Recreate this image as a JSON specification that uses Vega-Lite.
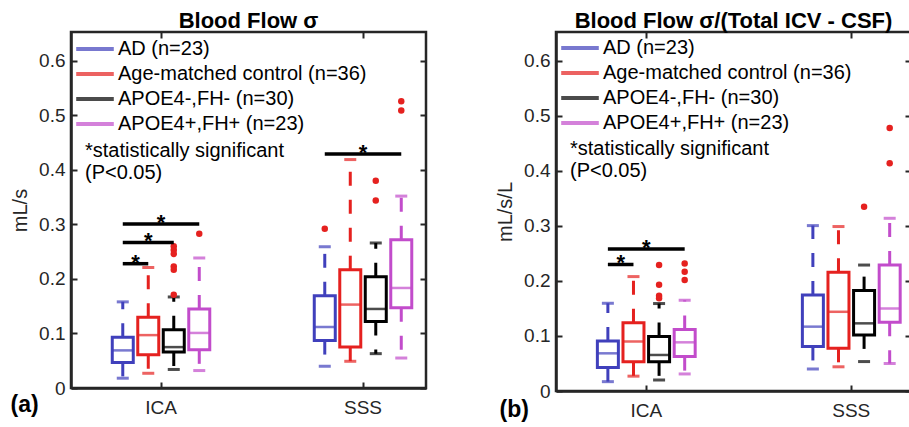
{
"$schema": "https://vega.github.io/schema/vega-lite/v6.json",
"background": "white",
"padding": {"left": 8, "top": 8, "right": 0, "bottom": 0},
"autosize": {"type": "pad"},
"bounds": "flush",
"spacing": 130,
"config": {
  "font": "Liberation Sans",
  "view": {"stroke": "#262626", "strokeWidth": 2.5},
  "axis": {"grid": false, "domainColor": "#262626", "domainWidth": 2.5, "tickColor": "#262626", "tickWidth": 2, "labelColor": "#262626", "labelFont": "Liberation Sans", "labelFontSize": 19, "titleFont": "Liberation Sans", "titleColor": "#262626"},
  "title": {"font": "Liberation Sans", "fontSize": 22, "fontWeight": "bold", "color": "#000000", "anchor": "middle", "frame": "group", "baseline": "alphabetic", "offset": -2}
},
"datasets": {
  "boxesA": [
    {"vessel": "ICA", "group": "AD (n=23)", "lo": 0.018, "q1": 0.047, "median": 0.069, "q3": 0.093, "hi": 0.158},
    {"vessel": "ICA", "group": "Age-matched control (n=36)", "lo": 0.027, "q1": 0.061, "median": 0.097, "q3": 0.130, "hi": 0.221},
    {"vessel": "ICA", "group": "APOE4-,FH- (n=30)", "lo": 0.034, "q1": 0.066, "median": 0.075, "q3": 0.107, "hi": 0.167},
    {"vessel": "ICA", "group": "APOE4+,FH+ (n=23)", "lo": 0.032, "q1": 0.070, "median": 0.101, "q3": 0.145, "hi": 0.2385},
    {"vessel": "SSS", "group": "AD (n=23)", "lo": 0.040, "q1": 0.087, "median": 0.112, "q3": 0.169, "hi": 0.259},
    {"vessel": "SSS", "group": "Age-matched control (n=36)", "lo": 0.049, "q1": 0.075, "median": 0.153, "q3": 0.217, "hi": 0.419},
    {"vessel": "SSS", "group": "APOE4-,FH- (n=30)", "lo": 0.063, "q1": 0.122, "median": 0.145, "q3": 0.204, "hi": 0.266},
    {"vessel": "SSS", "group": "APOE4+,FH+ (n=23)", "lo": 0.055, "q1": 0.147, "median": 0.1835, "q3": 0.272, "hi": 0.352}
  ],
  "outA": [
    {"vessel": "ICA", "group": "APOE4-,FH- (n=30)", "value": 0.260},
    {"vessel": "ICA", "group": "APOE4-,FH- (n=30)", "value": 0.253},
    {"vessel": "ICA", "group": "APOE4-,FH- (n=30)", "value": 0.246},
    {"vessel": "ICA", "group": "APOE4-,FH- (n=30)", "value": 0.223},
    {"vessel": "ICA", "group": "APOE4-,FH- (n=30)", "value": 0.217},
    {"vessel": "ICA", "group": "APOE4-,FH- (n=30)", "value": 0.171},
    {"vessel": "ICA", "group": "APOE4+,FH+ (n=23)", "value": 0.283},
    {"vessel": "SSS", "group": "AD (n=23)", "value": 0.292},
    {"vessel": "SSS", "group": "APOE4-,FH- (n=30)", "value": 0.380},
    {"vessel": "SSS", "group": "APOE4-,FH- (n=30)", "value": 0.344},
    {"vessel": "SSS", "group": "APOE4+,FH+ (n=23)", "value": 0.526},
    {"vessel": "SSS", "group": "APOE4+,FH+ (n=23)", "value": 0.509}
  ],
  "sigA": [
    {"vessel": "ICA", "comparison": "AD vs control", "group": "AD (n=23)", "value": 0.228},
    {"vessel": "ICA", "comparison": "AD vs control", "group": "Age-matched control (n=36)", "value": 0.228},
    {"vessel": "ICA", "comparison": "AD vs APOE4-", "group": "AD (n=23)", "value": 0.267},
    {"vessel": "ICA", "comparison": "AD vs APOE4-", "group": "APOE4-,FH- (n=30)", "value": 0.267},
    {"vessel": "ICA", "comparison": "AD vs APOE4+", "group": "AD (n=23)", "value": 0.301},
    {"vessel": "ICA", "comparison": "AD vs APOE4+", "group": "APOE4+,FH+ (n=23)", "value": 0.301},
    {"vessel": "SSS", "comparison": "AD vs APOE4+", "group": "AD (n=23)", "value": 0.429},
    {"vessel": "SSS", "comparison": "AD vs APOE4+", "group": "APOE4+,FH+ (n=23)", "value": 0.429}
  ],
  "starA": [
    {"vessel": "ICA", "group": "AD|control", "value": 0.228},
    {"vessel": "ICA", "group": "Age-matched control (n=36)", "value": 0.267},
    {"vessel": "ICA", "group": "control|APOE4-", "value": 0.301},
    {"vessel": "SSS", "group": "control|APOE4-", "value": 0.429}
  ],
  "boxesB": [
    {"vessel": "ICA", "group": "AD (n=23)", "lo": 0.017, "q1": 0.0425, "median": 0.0685, "q3": 0.091, "hi": 0.1595},
    {"vessel": "ICA", "group": "Age-matched control (n=36)", "lo": 0.027, "q1": 0.053, "median": 0.090, "q3": 0.124, "hi": 0.208},
    {"vessel": "ICA", "group": "APOE4-,FH- (n=30)", "lo": 0.020, "q1": 0.053, "median": 0.0655, "q3": 0.099, "hi": 0.159},
    {"vessel": "ICA", "group": "APOE4+,FH+ (n=23)", "lo": 0.031, "q1": 0.0625, "median": 0.0885, "q3": 0.112, "hi": 0.165},
    {"vessel": "SSS", "group": "AD (n=23)", "lo": 0.040, "q1": 0.081, "median": 0.117, "q3": 0.1745, "hi": 0.3007},
    {"vessel": "SSS", "group": "Age-matched control (n=36)", "lo": 0.044, "q1": 0.0776, "median": 0.144, "q3": 0.216, "hi": 0.299},
    {"vessel": "SSS", "group": "APOE4-,FH- (n=30)", "lo": 0.0535, "q1": 0.102, "median": 0.123, "q3": 0.1825, "hi": 0.229},
    {"vessel": "SSS", "group": "APOE4+,FH+ (n=23)", "lo": 0.050, "q1": 0.125, "median": 0.150, "q3": 0.229, "hi": 0.314}
  ],
  "outB": [
    {"vessel": "ICA", "group": "APOE4-,FH- (n=30)", "value": 0.229},
    {"vessel": "ICA", "group": "APOE4-,FH- (n=30)", "value": 0.193},
    {"vessel": "ICA", "group": "APOE4-,FH- (n=30)", "value": 0.173},
    {"vessel": "ICA", "group": "APOE4-,FH- (n=30)", "value": 0.1685},
    {"vessel": "ICA", "group": "APOE4+,FH+ (n=23)", "value": 0.232},
    {"vessel": "ICA", "group": "APOE4+,FH+ (n=23)", "value": 0.217},
    {"vessel": "ICA", "group": "APOE4+,FH+ (n=23)", "value": 0.202},
    {"vessel": "SSS", "group": "APOE4-,FH- (n=30)", "value": 0.335},
    {"vessel": "SSS", "group": "APOE4+,FH+ (n=23)", "value": 0.478},
    {"vessel": "SSS", "group": "APOE4+,FH+ (n=23)", "value": 0.414}
  ],
  "sigB": [
    {"vessel": "ICA", "comparison": "AD vs control", "group": "AD (n=23)", "value": 0.230},
    {"vessel": "ICA", "comparison": "AD vs control", "group": "Age-matched control (n=36)", "value": 0.230},
    {"vessel": "ICA", "comparison": "AD vs APOE4+", "group": "AD (n=23)", "value": 0.258},
    {"vessel": "ICA", "comparison": "AD vs APOE4+", "group": "APOE4+,FH+ (n=23)", "value": 0.258}
  ],
  "starB": [
    {"vessel": "ICA", "group": "AD|control", "value": 0.230},
    {"vessel": "ICA", "group": "control|APOE4-", "value": 0.258}
  ]
},
"hconcat": [
  {
    "width": 355, "height": 356,
    "title": {"text": "Blood Flow σ"},
    "encoding": {
      "x": {"field": "vessel", "type": "nominal", "scale": {"domain": ["ICA", "SSS"], "paddingInner": 0.5582, "paddingOuter": 0.1578, "align": 0.712}, "axis": null},
      "xOffset": {"field": "group", "type": "nominal", "scale": {"domain": ["AD (n=23)", "AD|control", "Age-matched control (n=36)", "control|APOE4-", "APOE4-,FH- (n=30)", "APOE4-|APOE4+", "APOE4+,FH+ (n=23)"], "paddingInner": 0, "paddingOuter": 0}}
    },
    "resolve": {"axis": {"x": "independent", "y": "independent"}},
    "layer": [
      {"data": {"name": "boxesA"}, "mark": {"type": "rule", "strokeWidth": 3, "strokeDash": [14, 14]},
       "encoding": {
         "x": {"field": "vessel", "type": "nominal", "axis": {"title": "(a)", "labelAngle": 0, "tickSize": -6, "labelPadding": 16, "titleX": -61, "titleY": 16, "titleAlign": "left", "titleBaseline": "middle", "titleFontSize": 23, "titleFontWeight": "bold", "titleColor": "#000000", "titleAnchor": "start"}},
         "y": {"field": "q1", "type": "quantitative", "title": "mL/s", "scale": {"domain": [0, 0.653], "nice": false, "zero": true},
               "axis": {"values": [0, 0.1, 0.2, 0.3, 0.4, 0.5, 0.6], "labelExpr": "datum.value === 0 ? '0' : format(datum.value, '.1f')", "tickSize": -6, "labelPadding": 12, "titleFontSize": 20, "titleFontWeight": "normal", "titlePadding": 8}},
         "y2": {"field": "lo"},
         "color": {"field": "group", "type": "nominal", "scale": {"domain": ["AD (n=23)", "Age-matched control (n=36)", "APOE4-,FH- (n=30)", "APOE4+,FH+ (n=23)"], "range": ["#4040BC", "#E5211F", "#000000", "#C24CCB"]},
                   "legend": {"orient": "none", "legendX": 14, "legendY": 7, "symbolType": "M-3,0H3", "symbolSize": 157, "symbolStrokeWidth": 4, "labelOffset": 13, "labelFontSize": 20, "labelColor": "#000000", "labelLimit": 0, "rowPadding": 5, "padding": 0, "title": ["*statistically significant", "(P<0.05)"], "titleOrient": "bottom", "titleAnchor": "start", "titleFontSize": 20, "titleFontWeight": "normal", "titleColor": "#000000", "titleLineHeight": 22, "titlePadding": 7, "titleLimit": 0}}
       }},
      {"data": {"name": "boxesA"}, "mark": {"type": "rule", "strokeWidth": 3, "strokeDash": [14, 14]},
       "encoding": {"y": {"field": "q3", "type": "quantitative", "title": "mL/s", "axis": null}, "y2": {"field": "hi"}, "color": {"field": "group", "type": "nominal"}}},
      {"data": {"name": "boxesA"}, "mark": {"type": "tick", "size": 12, "thickness": 3},
       "encoding": {"y": {"field": "lo", "type": "quantitative", "title": "mL/s", "axis": null}, "color": {"field": "group", "type": "nominal"}}},
      {"data": {"name": "boxesA"}, "mark": {"type": "tick", "size": 12, "thickness": 3},
       "encoding": {"y": {"field": "hi", "type": "quantitative", "title": "mL/s", "axis": null}, "color": {"field": "group", "type": "nominal"}}},
      {"data": {"name": "boxesA"}, "mark": {"type": "bar", "filled": false, "strokeWidth": 3, "width": 21},
       "encoding": {"y": {"field": "q1", "type": "quantitative", "title": "mL/s", "axis": null}, "y2": {"field": "q3"}, "color": {"field": "group", "type": "nominal"}}},
      {"data": {"name": "boxesA"}, "mark": {"type": "tick", "size": 21, "thickness": 2.5},
       "encoding": {"y": {"field": "median", "type": "quantitative", "title": "mL/s", "axis": null}, "color": {"field": "group", "type": "nominal"}}},
      {"data": {"name": "outA"}, "mark": {"type": "point", "filled": true, "shape": "circle", "size": 42, "color": "#E5211F", "opacity": 1},
       "encoding": {"y": {"field": "value", "type": "quantitative", "title": "mL/s", "axis": null}}},
      {"data": {"name": "sigA"}, "mark": {"type": "line", "color": "#000000", "strokeWidth": 3.5},
       "encoding": {"y": {"field": "value", "type": "quantitative", "title": "mL/s", "axis": null}, "detail": [{"field": "vessel"}, {"field": "comparison"}]}},
      {"data": {"name": "starA"}, "mark": {"type": "text", "text": "*", "fontSize": 22, "fontWeight": "bold", "baseline": "alphabetic", "dy": 6, "color": "#000000"},
       "encoding": {
         "x": {"field": "vessel", "type": "nominal", "axis": {"orient": "top", "labels": false, "domain": false, "title": null, "tickSize": -6}},
         "y": {"field": "value", "type": "quantitative", "title": "mL/s", "axis": {"orient": "right", "labels": false, "domain": false, "title": null, "tickSize": -6, "values": [0, 0.1, 0.2, 0.3, 0.4, 0.5, 0.6]}}}}
    ]
  },
  {
    "width": 355, "height": 359,
    "title": {"text": "Blood Flow σ/(Total ICV - CSF)"},
    "encoding": {
      "x": {"field": "vessel", "type": "nominal", "scale": {"domain": ["ICA", "SSS"], "paddingInner": 0.5629, "paddingOuter": 0.1473, "align": 0.753}, "axis": null},
      "xOffset": {"field": "group", "type": "nominal", "scale": {"domain": ["AD (n=23)", "AD|control", "Age-matched control (n=36)", "control|APOE4-", "APOE4-,FH- (n=30)", "APOE4-|APOE4+", "APOE4+,FH+ (n=23)"], "paddingInner": 0, "paddingOuter": 0}}
    },
    "resolve": {"axis": {"x": "independent", "y": "independent"}},
    "layer": [
      {"data": {"name": "boxesB"}, "mark": {"type": "rule", "strokeWidth": 3, "strokeDash": [14, 14]},
       "encoding": {
         "x": {"field": "vessel", "type": "nominal", "axis": {"title": "(b)", "labelAngle": 0, "tickSize": -6, "labelPadding": 16, "titleX": -57, "titleY": 18, "titleAlign": "left", "titleBaseline": "middle", "titleFontSize": 23, "titleFontWeight": "bold", "titleColor": "#000000", "titleAnchor": "start"}},
         "y": {"field": "q1", "type": "quantitative", "title": "mL/s/L", "scale": {"domain": [0, 0.6527], "nice": false, "zero": true},
               "axis": {"values": [0, 0.1, 0.2, 0.3, 0.4, 0.5, 0.6], "labelExpr": "datum.value === 0 ? '0' : format(datum.value, '.1f')", "tickSize": -6, "labelPadding": 12, "titleFontSize": 20, "titleFontWeight": "normal", "titlePadding": 8}},
         "y2": {"field": "lo"},
         "color": {"field": "group", "type": "nominal", "scale": {"domain": ["AD (n=23)", "Age-matched control (n=36)", "APOE4-,FH- (n=30)", "APOE4+,FH+ (n=23)"], "range": ["#4040BC", "#E5211F", "#000000", "#C24CCB"]},
                   "legend": {"orient": "none", "legendX": 14, "legendY": 6, "symbolType": "M-3,0H3", "symbolSize": 157, "symbolStrokeWidth": 4, "labelOffset": 13, "labelFontSize": 20, "labelColor": "#000000", "labelLimit": 0, "rowPadding": 5, "padding": 0, "title": ["*statistically significant", "(P<0.05)"], "titleOrient": "bottom", "titleAnchor": "start", "titleFontSize": 20, "titleFontWeight": "normal", "titleColor": "#000000", "titleLineHeight": 22, "titlePadding": 6, "titleLimit": 0}}
       }},
      {"data": {"name": "boxesB"}, "mark": {"type": "rule", "strokeWidth": 3, "strokeDash": [14, 14]},
       "encoding": {"y": {"field": "q3", "type": "quantitative", "title": "mL/s/L", "axis": null}, "y2": {"field": "hi"}, "color": {"field": "group", "type": "nominal"}}},
      {"data": {"name": "boxesB"}, "mark": {"type": "tick", "size": 12, "thickness": 3},
       "encoding": {"y": {"field": "lo", "type": "quantitative", "title": "mL/s/L", "axis": null}, "color": {"field": "group", "type": "nominal"}}},
      {"data": {"name": "boxesB"}, "mark": {"type": "tick", "size": 12, "thickness": 3},
       "encoding": {"y": {"field": "hi", "type": "quantitative", "title": "mL/s/L", "axis": null}, "color": {"field": "group", "type": "nominal"}}},
      {"data": {"name": "boxesB"}, "mark": {"type": "bar", "filled": false, "strokeWidth": 3, "width": 21},
       "encoding": {"y": {"field": "q1", "type": "quantitative", "title": "mL/s/L", "axis": null}, "y2": {"field": "q3"}, "color": {"field": "group", "type": "nominal"}}},
      {"data": {"name": "boxesB"}, "mark": {"type": "tick", "size": 21, "thickness": 2.5},
       "encoding": {"y": {"field": "median", "type": "quantitative", "title": "mL/s/L", "axis": null}, "color": {"field": "group", "type": "nominal"}}},
      {"data": {"name": "outB"}, "mark": {"type": "point", "filled": true, "shape": "circle", "size": 42, "color": "#E5211F", "opacity": 1},
       "encoding": {"y": {"field": "value", "type": "quantitative", "title": "mL/s/L", "axis": null}}},
      {"data": {"name": "sigB"}, "mark": {"type": "line", "color": "#000000", "strokeWidth": 3.5},
       "encoding": {"y": {"field": "value", "type": "quantitative", "title": "mL/s/L", "axis": null}, "detail": [{"field": "vessel"}, {"field": "comparison"}]}},
      {"data": {"name": "starB"}, "mark": {"type": "text", "text": "*", "fontSize": 22, "fontWeight": "bold", "baseline": "alphabetic", "dy": 6, "color": "#000000"},
       "encoding": {
         "x": {"field": "vessel", "type": "nominal", "axis": {"orient": "top", "labels": false, "domain": false, "title": null, "tickSize": -6}},
         "y": {"field": "value", "type": "quantitative", "title": "mL/s/L", "axis": {"orient": "right", "labels": false, "domain": false, "title": null, "tickSize": -6, "values": [0, 0.1, 0.2, 0.3, 0.4, 0.5, 0.6]}}}}
    ]
  }
],
"resolve": {"scale": {"x": "independent", "y": "independent", "color": "independent", "xOffset": "independent"}, "legend": {"color": "independent"}, "axis": {"x": "independent", "y": "independent"}}
}
